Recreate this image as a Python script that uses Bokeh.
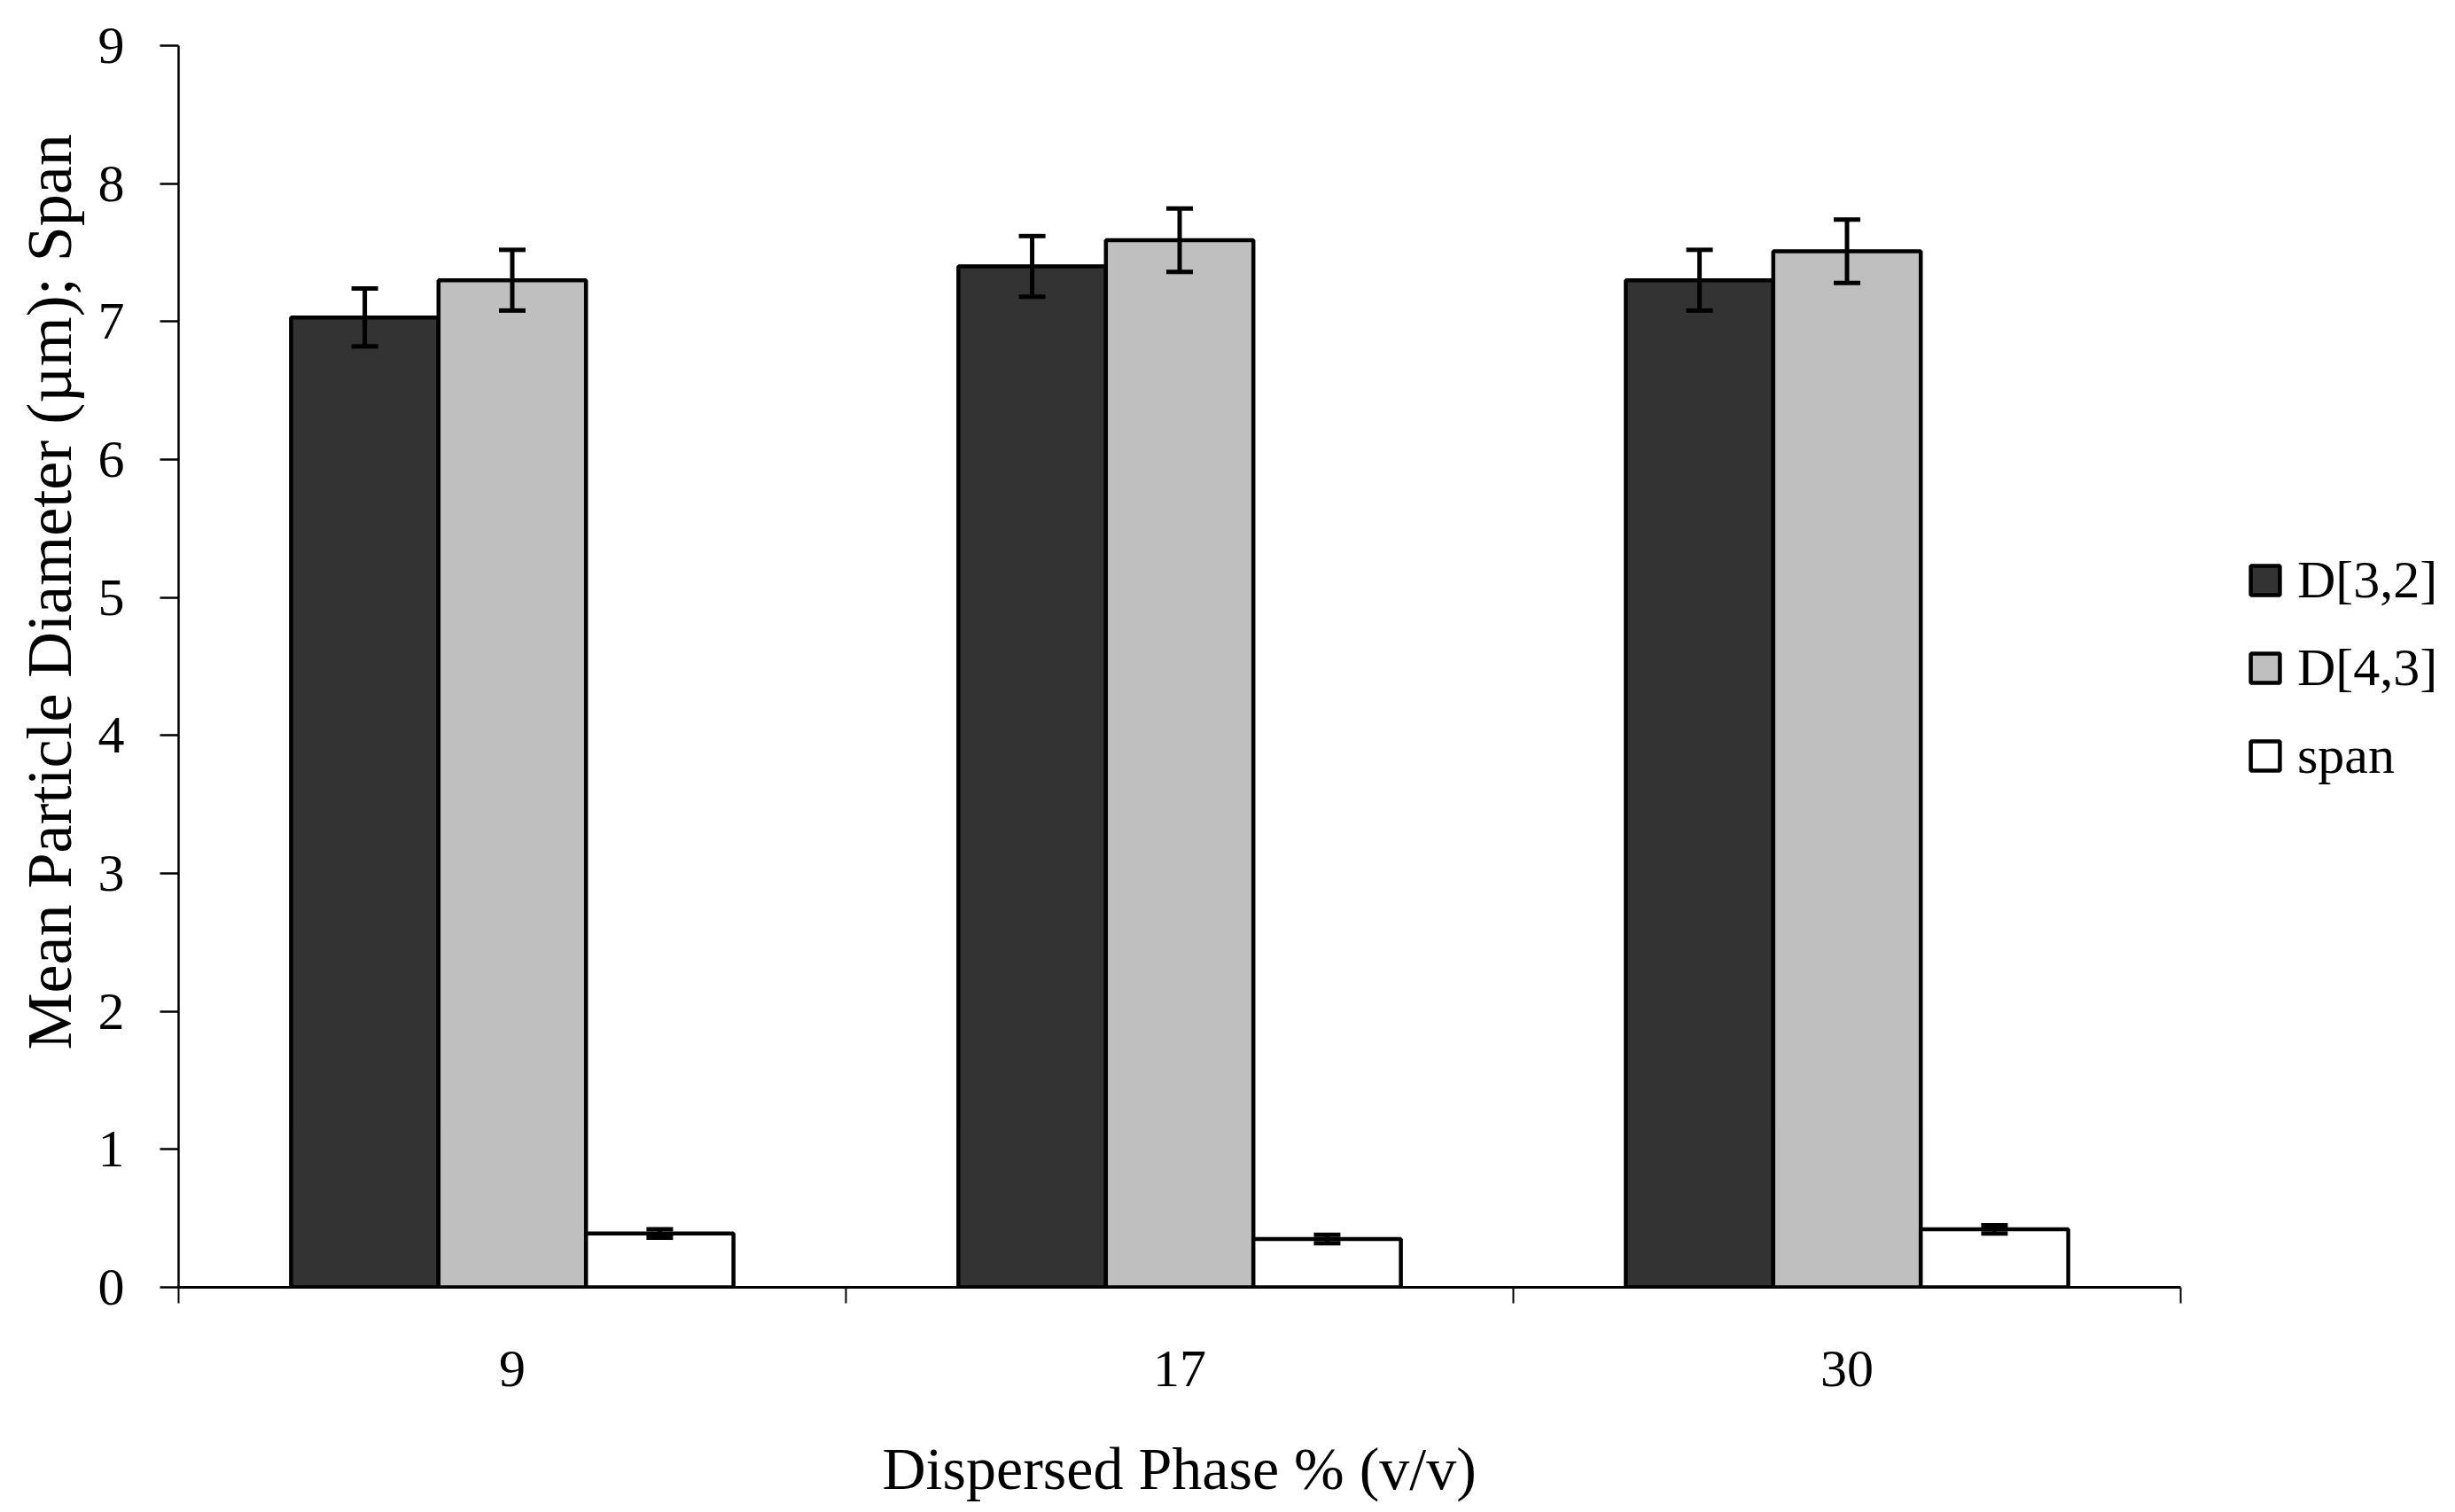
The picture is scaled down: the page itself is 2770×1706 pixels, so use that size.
from bokeh.plotting import figure
from bokeh.models import (ColumnDataSource, Range1d, FixedTicker, Legend, LegendItem,
                          Whisker, TeeHead, Title)
from bokeh.embed import file_html
from bokeh.resources import INLINE

categories = ["9", "17", "30"]
d32 = [7.03, 7.40, 7.30]
d32_err = [0.21, 0.22, 0.22]
d43 = [7.30, 7.59, 7.51]
d43_err = [0.22, 0.23, 0.23]
span = [0.39, 0.35, 0.42]
span_err = [0.03, 0.03, 0.03]

series = [
    ("D[3,2]", d32, d32_err, "#333333"),
    ("D[4,3]", d43, d43_err, "#bfbfbf"),
    ("span", span, span_err, "#ffffff"),
]

FONT = "Liberation Serif"
BAR_W = 0.221

W, H = 2754, 1696
LEFT, RIGHT, TOP, BOTTOM = 201, 4, 51, 244
AXIS_END_PX = 2460  # where the category axis ends on the canvas
n = len(categories)
x_end = n * (W - RIGHT - LEFT) / (AXIS_END_PX - LEFT)

p = figure(width=W, height=H, x_range=Range1d(0, x_end), y_range=Range1d(0, 9),
           output_backend="svg", toolbar_location=None,
           min_border_left=LEFT, min_border_right=RIGHT, min_border_top=TOP,
           min_border_bottom=BOTTOM)
p.outline_line_color = None
p.xgrid.grid_line_color = None
p.ygrid.grid_line_color = None

centers = [i + 0.5 for i in range(n)]
items = []
for k, (name, vals, errs, color) in enumerate(series):
    off = (k - 1) * BAR_W
    xs = [c + off for c in centers]
    src = ColumnDataSource(dict(x=xs, top=vals,
                                upper=[v + e for v, e in zip(vals, errs)],
                                lower=[v - e for v, e in zip(vals, errs)]))
    r = p.vbar(x="x", top="top", bottom=0, width=BAR_W, source=src,
               fill_color=color, line_color="black", line_width=4.5)
    items.append(LegendItem(label=name, renderers=[r]))
    w = Whisker(base="x", upper="upper", lower="lower", source=src,
                line_color="black", line_width=5, level="annotation",
                upper_head=TeeHead(size=30, line_width=5, line_color="black"),
                lower_head=TeeHead(size=30, line_width=5, line_color="black"))
    p.add_layout(w)

# x axis: labels at category centres, ticks at category boundaries
xax = p.xaxis[0]
xax.bounds = (0, n)
xax.ticker = FixedTicker(ticks=centers, minor_ticks=list(range(n + 1)))
xax.major_label_overrides = {c: lab for c, lab in zip(centers, categories)}
xax.major_tick_out = 0
xax.major_tick_in = 0
xax.minor_tick_out = 18
xax.minor_tick_in = 0
xax.minor_tick_line_width = 2
xax.minor_tick_line_color = "black"
xax.axis_line_width = 3
xax.axis_line_color = "black"
xax.major_label_text_font = FONT
xax.major_label_text_font_size = "60px"
xax.major_label_text_color = "black"
xax.major_label_standoff = 54
# blank spacer label between tick labels and the title below
xax.axis_label = " "
xax.axis_label_text_font_size = "1px"
xax.axis_label_standoff = 46

yax = p.yaxis[0]
yax.ticker = FixedTicker(ticks=list(range(10)), minor_ticks=[])
yax.major_tick_out = 21
yax.major_tick_in = 0
yax.major_tick_line_width = 2.5
yax.major_tick_line_color = "black"
yax.axis_line_width = 2.5
yax.axis_line_color = "black"
yax.major_label_text_font = FONT
yax.major_label_text_font_size = "60px"
yax.major_label_text_color = "black"
yax.major_label_standoff = 40

ytitle = Title(text="Mean Particle Diameter (µm); Span", align="left", offset=268,
               text_font=FONT, text_font_size="72px", text_font_style="normal",
               text_color="black", standoff=24)
p.add_layout(ytitle, "left")

xtitle = Title(text="Dispersed Phase % (v/v)", align="left", offset=794,
               text_font=FONT, text_font_size="68px", text_font_style="normal",
               text_color="black", standoff=0)
p.add_layout(xtitle, "below")

legend = Legend(items=items, location=(2334, 565), glyph_width=41, glyph_height=41,
                label_text_font=FONT, label_text_font_size="60px",
                label_text_color="black",
                label_height=70, label_standoff=16, spacing=29, padding=0, margin=0,
                border_line_color=None, background_fill_alpha=0)
p.add_layout(legend)

open("out.html", "w").write(file_html(p, INLINE))
